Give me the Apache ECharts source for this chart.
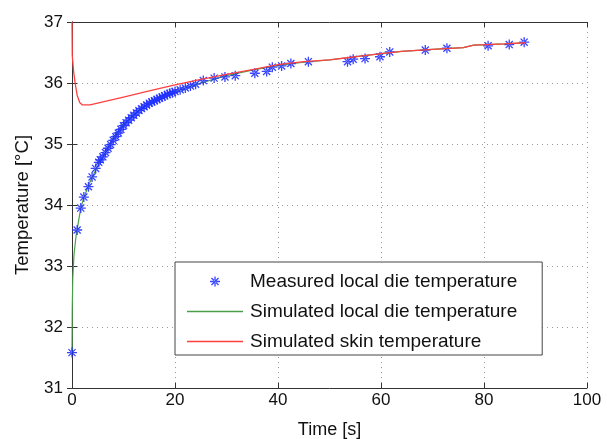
<!DOCTYPE html>
<html>
<head>
<meta charset="utf-8">
<script src="https://cdn.jsdelivr.net/npm/echarts@6/dist/echarts.min.js"></script>
<style>html,body{margin:0;padding:0;background:#fff;}#c{width:607px;height:439px;}</style>
</head>
<body>
<div id="c"></div>
<script>
// Measured local die temperature: time [s], temperature [°C]
const measuredT = [0,1.0,1.7,2.3,3.2,3.9,4.6,5.2,5.5,6.0,6.5,7.0,7.5,8.0,8.5,9.0,9.5,10.0,10.5,11.0,11.5,12.0,12.5,13.0,13.5,14.0,14.5,15.0,15.5,16.0,16.5,17.0,17.5,18.0,18.5,19.0,19.5,20.0,21.0,22.0,23.0,24.0,25.5,27.6,29.7,31.7,35.5,37.8,38.9,40.7,42.5,45.9,53.5,54.6,56.9,59.8,61.7,68.6,72.8,80.8,84.9,87.8];
const measuredV = [31.58,33.59,33.95,34.13,34.30,34.46,34.60,34.70,34.74,34.79,34.86,34.93,34.99,35.06,35.12,35.18,35.24,35.30,35.35,35.39,35.43,35.47,35.51,35.55,35.58,35.61,35.64,35.67,35.69,35.71,35.73,35.75,35.77,35.79,35.81,35.83,35.84,35.86,35.89,35.92,35.95,35.98,36.04,36.08,36.10,36.12,36.16,36.19,36.26,36.28,36.32,36.35,36.35,36.39,36.40,36.43,36.51,36.54,36.57,36.61,36.63,36.67];
// Simulated local die temperature
const dieT = [0,0.05,0.15,0.4,0.8,1.0,1.7,2.3,3.2,4.0,5.0,6.0,8.0,10.0,12.5,15.0,17.5,20.0,22.5,25.0,30.0,35.0,40.0,45.0,50.0,53.0,56.0,60.0,64.0,70.0,76.0,78.0,84.0,88.0];
const dieV = [31.6,32.3,32.8,33.2,33.5,33.6,33.95,34.12,34.32,34.47,34.64,34.78,35.10,35.33,35.52,35.67,35.77,35.86,35.93,36.00,36.12,36.21,36.29,36.34,36.38,36.41,36.44,36.48,36.52,36.55,36.58,36.62,36.64,36.66];
// Simulated skin temperature
const skinT = [0,0.05,0.3,0.6,1.0,1.5,2.0,3.5,6.0,10.0,15.0,20.0,25.0,30.0,35.0,40.0,45.0,50.0,53.0,56.0,60.0,64.0,70.0,76.0,78.0,84.0,88.0];
const skinV = [37.0,36.45,36.2,36.0,35.8,35.68,35.64,35.64,35.69,35.77,35.87,35.97,36.06,36.14,36.22,36.30,36.35,36.38,36.41,36.44,36.48,36.52,36.55,36.58,36.62,36.64,36.66];
const xTicks = [0,20,40,60,80,100];
const yTicks = [31,32,33,34,35,36,37];
const seriesNames = ['Measured local die temperature','Simulated local die temperature','Simulated skin temperature'];

const zip = (a,b) => a.map((v,i)=>[v,b[i]]);
const star = 'path://M-1.3,-10 L1.3,-10 L1.3,10 L-1.3,10 Z M-10,-1.3 L10,-1.3 L10,1.3 L-10,1.3 Z M6.15,7.99 L7.99,6.15 L-6.15,-7.99 L-7.99,-6.15 Z M-6.15,7.99 L-7.99,6.15 L6.15,-7.99 L7.99,-6.15 Z';
const lineIcon = 'path://M0,0 L0.01,0 L0,0.01 Z M0,4.3 L56,4.3 L56,5.7 L0,5.7 Z M56,10 L55.99,10 L56,9.99 Z';
const font = 'Liberation Sans';
const axisCol = '#333';
const greenCol = '#4a9e4a';
const redCol = '#ff4040';

const chart = echarts.init(document.getElementById('c'), null, {renderer:'canvas'});
chart.setOption({
  animation:false,
  backgroundColor:'#fff',
  textStyle:{fontFamily:font},
  grid:{left:72,right:20,top:22,bottom:51,show:false,containLabel:false,outerBoundsMode:'none'},
  xAxis:[{
    type:'value',min:xTicks[0],max:xTicks[xTicks.length-1],interval:20,
    name:'Time [s]',nameLocation:'middle',nameGap:33,
    nameTextStyle:{fontSize:18,color:'#111',fontFamily:font},
    axisLine:{lineStyle:{color:axisCol,width:1}},
    axisTick:{inside:true,length:5,lineStyle:{color:axisCol}},
    axisLabel:{fontSize:17,color:'#111',margin:4,fontFamily:font},
    splitLine:{show:true,lineStyle:{color:'#999',type:[1,4],width:1}}
  },{
    type:'value',position:'top',min:0,max:100,interval:20,
    axisLine:{show:true,lineStyle:{color:axisCol,width:1}},
    axisTick:{show:true,inside:true,length:5,lineStyle:{color:axisCol}},
    axisLabel:{show:false},splitLine:{show:false}
  }],
  yAxis:[{
    type:'value',min:yTicks[0],max:yTicks[yTicks.length-1],interval:1,
    name:'Temperature [°C]',nameLocation:'middle',nameGap:40,nameRotate:90,
    nameTextStyle:{fontSize:18.5,color:'#111',fontFamily:font},
    axisLine:{show:true,lineStyle:{color:axisCol,width:1}},
    axisTick:{show:true,inside:true,length:5,lineStyle:{color:axisCol}},
    axisLabel:{fontSize:17,color:'#111',margin:9,fontFamily:font},
    splitLine:{show:true,lineStyle:{color:'#999',type:[1,4],width:1}}
  },{
    type:'value',position:'right',min:31,max:37,interval:1,
    axisLine:{show:true,lineStyle:{color:axisCol,width:1}},
    axisTick:{show:true,inside:true,length:5,lineStyle:{color:axisCol}},
    axisLabel:{show:false},splitLine:{show:false}
  }],
  legend:{
    orient:'vertical',left:175,top:262,
    padding:[10,25,4,12],itemGap:11,itemWidth:56,itemHeight:10,
    backgroundColor:'#fff',borderColor:'#444',borderWidth:1,borderRadius:0,
    textStyle:{fontSize:19,color:'#111',fontFamily:font,lineHeight:18,padding:[0,0,0,2]},
    data:[
      {name:seriesNames[0]},
      {name:seriesNames[1],icon:lineIcon,itemStyle:{color:greenCol,borderWidth:0}},
      {name:seriesNames[2],icon:lineIcon,itemStyle:{color:redCol,borderWidth:0}}
    ]
  },
  series:[
    {
      name:seriesNames[1],type:'line',data:zip(dieT,dieV),symbol:'none',
      lineStyle:{color:greenCol,width:1.2},itemStyle:{color:greenCol},z:2
    },
    {
      name:seriesNames[2],type:'line',data:zip(skinT,skinV),symbol:'none',
      lineStyle:{color:redCol,width:1.3},itemStyle:{color:redCol},z:4
    },
    {
      name:seriesNames[0],type:'scatter',data:zip(measuredT,measuredV),
      symbol:star,symbolSize:10,symbolKeepAspect:true,
      itemStyle:{color:'#2030ff',opacity:0.9},z:3
    }
  ]
});
</script>
</body>
</html>
